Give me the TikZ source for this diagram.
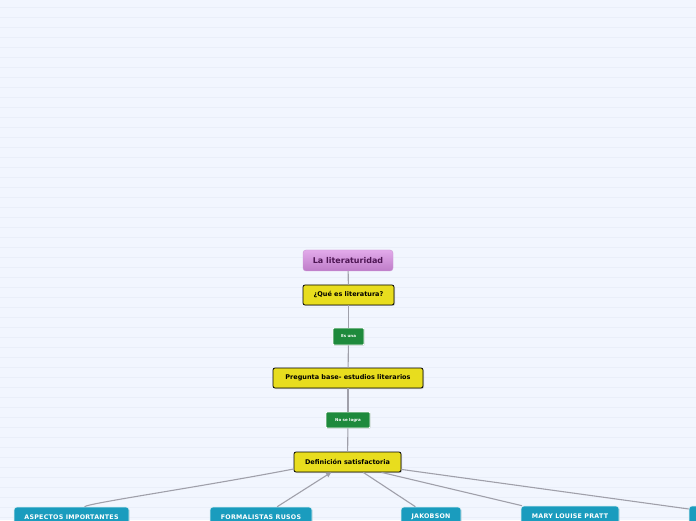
\documentclass[tikz,border=0pt]{standalone}
\usepackage{fontspec}
\setmainfont{DejaVu Sans}
\newfontfamily\spacedsans[LetterSpace=4]{DejaVu Sans}
\usepackage{tikz}
\usetikzlibrary{arrows.meta, calc, shadows}
\definecolor{MapPaper}{RGB}{242,246,254}
\definecolor{MapRule}{RGB}{234,239,249}
\definecolor{MapLine}{RGB}{160,160,170}
\definecolor{MapPurpleTop}{RGB}{226,170,234}
\definecolor{MapPurpleBot}{RGB}{190,124,200}
\definecolor{MapPurpleInk}{RGB}{78,22,84}
\definecolor{MapYellow}{RGB}{232,221,30}
\definecolor{MapGreen}{RGB}{30,138,60}
\definecolor{MapTeal}{RGB}{26,156,190}

\begin{document}
\begin{tikzpicture}[x=1pt, y=1pt,
          root/.style={rectangle, rounded corners=3pt, minimum width=90pt,
                       minimum height=21pt, top color=MapPurpleTop,
                       bottom color=MapPurpleBot, draw=MapPurpleBot!80!white,
                       text=MapPurpleInk, font=\fontsize{8}{9}\selectfont\bfseries},
          topic/.style={rectangle, rounded corners=2pt, minimum height=20pt,
                        fill=MapYellow, draw=black, line width=0.8pt,
                        drop shadow={shadow xshift=1pt, shadow yshift=-1pt, opacity=0.35},
                        font=\fontsize{6.5}{7}\selectfont\bfseries},
          tag/.style={rectangle, rounded corners=1pt, fill=MapGreen, draw=white,
                      line width=0.8pt, text=white,
                      drop shadow={shadow xshift=0.6pt, shadow yshift=-0.8pt, opacity=0.25},
                      font=\fontsize{4}{5}\selectfont\bfseries},
          sub/.style={rectangle, rounded corners=3pt, minimum height=20pt,
                      fill=MapTeal, draw=white!85!MapTeal, line width=0.6pt, text=white,
                      drop shadow={shadow xshift=0.6pt, shadow yshift=-0.8pt, opacity=0.25},
                      font=\fontsize{6.3}{7}\selectfont\spacedsans\bfseries},
          link/.style={draw=MapLine, line width=1.1pt},
          arr/.style={-{Triangle[length=5pt, width=5pt]}}
        ]
        \useasboundingbox (0,0) rectangle (696,520);
        \clip (0,0) rectangle (696,520);
        \fill[MapPaper] (0,0) rectangle (696,520);
        \foreach \k in {0,...,51}
          \draw[MapRule, line width=1pt] (0,512.7-10*\k) -- (696,512.7-10*\k);

        % Central idea
        \node[root] (lit) at (348, 259.5) {La literaturidad};

        % Main chain
        \node[topic, minimum width=91pt] (que) at (348.5, 225) {¿Qué es literatura?};
        \node[tag, minimum width=31pt, minimum height=17pt] (esuna) at (348.5, 183.5) {Es una};
        \node[topic, minimum width=150pt] (preg) at (348, 142) {Pregunta base- estudios literarios};
        \node[tag, minimum width=44pt, minimum height=16pt] (nolog) at (348, 100) {No se logra};
        \node[topic, minimum width=107pt] (defi) at (347.5, 58) {Definición satisfactoria};

        \draw[link] (lit)--(que);
        \draw[link] (que)--(esuna);
        \draw[link] (esuna)--(preg);
        \draw[link] (preg)--(nolog);
        \draw[link] (nolog)--(defi);

        % Branches
        \node[sub, minimum width=115pt] (aspe) at (71.5, 3) {ASPECTOS IMPORTANTES};
        \node[sub, minimum width=102pt] (form) at (261, 3) {FORMALISTAS RUSOS};
        \node[sub, minimum width=60pt] (jako) at (431, 3) {JAKOBSON};
        \node[sub, minimum width=98pt] (mary) at (570, 4) {MARY LOUISE PRATT};
        \node[sub, minimum width=102pt] (otro) at (740, 4) {};

        \draw[link] ($(defi.west)+(0,-7)$) .. controls (200,33) and (89,17) ..
              ($(aspe.north)+(13,0)$);
        \draw[link, arr] (form)--(defi);
        \draw[link] (defi)--(jako);
        \draw[link] ($(defi.south)+(34,0)$)--($(mary.north)+(-48,0)$);
        \draw[link] (defi)--(otro);
      \end{tikzpicture}
\end{document}
